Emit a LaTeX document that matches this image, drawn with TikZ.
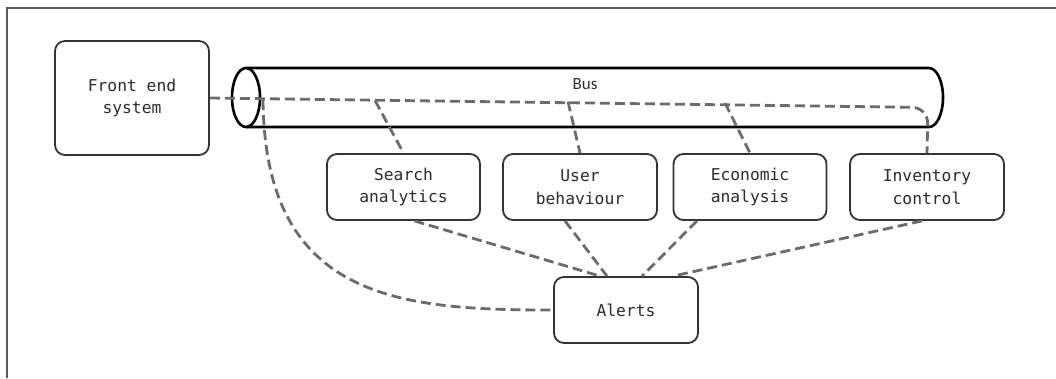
\documentclass[tikz,border=0pt]{standalone}
\usepackage{fontspec}
\newfontfamily\monofnt{DejaVu Sans Mono}
\newfontfamily\carlitofnt{Carlito}
\definecolor{linegray}{HTML}{6B6B6B}
\definecolor{boxline}{HTML}{333333}
\definecolor{txt}{HTML}{2B2B2B}
\begin{document}
\begin{tikzpicture}[x=1pt,y=-1pt,
  boxnode/.style={draw=boxline, line width=1.8pt, rounded corners=10pt, align=center,
    text=txt, font=\monofnt\fontsize{16.3}{22.5}\selectfont, inner sep=0pt},
  conn/.style={draw=linegray, line width=2.8pt, dash pattern=on 10pt off 5pt}
]
\useasboundingbox (0,0) rectangle (1056,378);
% frame
\draw[line width=1.5pt, color=boxline!80] (7,378) -- (7,8) -- (1056,8);
% nodes
\node[boxnode, minimum width=154pt, minimum height=114pt] (front) at (132,98) {Front end\\system};
\node[boxnode, minimum width=153pt, minimum height=66pt] (search) at (403.5,187) {Search\\analytics};
\node[boxnode, minimum width=154pt, minimum height=66pt] (user) at (580,187) {User\\behaviour};
\node[boxnode, minimum width=153pt, minimum height=66pt] (econ) at (750,187) {Economic\\analysis};
\node[boxnode, minimum width=154pt, minimum height=66pt] (inv) at (927,187) {Inventory\\control};
\node[boxnode, minimum width=144pt, minimum height=66pt] (alerts) at (626,310) {Alerts};
% bus cylinder
\draw[line width=2.6pt, black] (246,68) -- (929,68) arc[start angle=90, end angle=-90, x radius=14pt, y radius=29.5pt] -- (246,127);
\draw[line width=2.6pt, black] (246,97.5) ellipse[x radius=14pt, y radius=29.5pt];
\node[font=\carlitofnt\fontsize{17}{20}\selectfont, text=txt] (buslabel) at (585,84) {Bus};
% bus junctions
\coordinate (j0) at (263,100);
\coordinate (j1) at (375,100.5);
\coordinate (j2) at (568,101.5);
\coordinate (j3) at (725,103);
\coordinate (bend) at (928,107.5);
\draw[conn, rounded corners=16pt] (front.east) -- (bend) -- (inv.north);
\draw[conn] (j1) -- (search.north);
\draw[conn] (j2) -- (user.north);
\draw[conn] (j3) -- (econ.north);
\draw[conn] (j0) .. controls (265,300) and (400,310) .. (alerts.west);
% to alerts
\draw[conn] ([xshift=11pt]search.south) -- ([xshift=-26pt]alerts.north);
\draw[conn] ([xshift=-15pt]user.south) -- ([xshift=-19pt]alerts.north);
\draw[conn] ([xshift=-53pt]econ.south) -- ([xshift=16pt]alerts.north);
\draw[conn] ([xshift=-5pt]inv.south) -- ([xshift=47pt]alerts.north);
\end{tikzpicture}
\end{document}
